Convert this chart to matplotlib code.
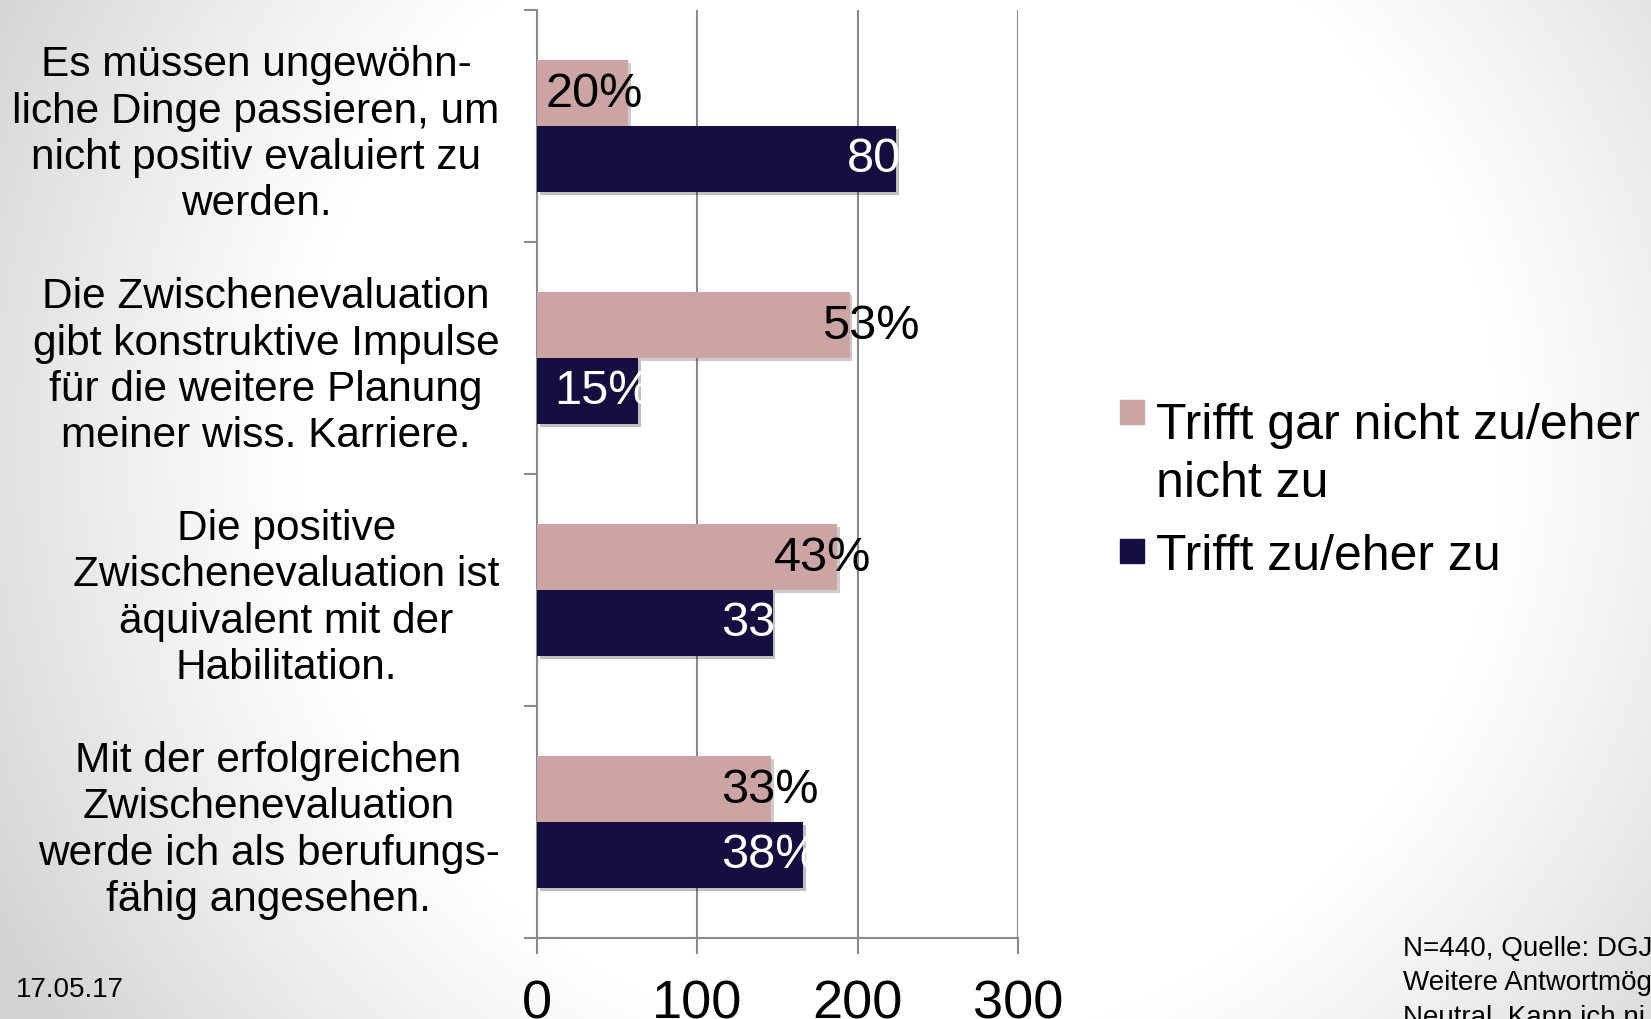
import numpy as np
import matplotlib
matplotlib.use("Agg")
import matplotlib.pyplot as plt
from matplotlib.patches import Rectangle
import matplotlib.patheffects as pe

plt.rcParams['font.family'] = ['Liberation Sans', 'DejaVu Sans']

# ---- data ----
categories = [
    "Es müssen ungewöhn-\nliche Dinge passieren, um\nnicht positiv evaluiert zu\nwerden.",
    "Die Zwischenevaluation\ngibt konstruktive Impulse\nfür die weitere Planung\nmeiner wiss. Karriere.",
    "Die positive\nZwischenevaluation ist\näquivalent mit der\nHabilitation.",
    "Mit der erfolgreichen\nZwischenevaluation\nwerde ich als berufungs-\nfähig angesehen.",
]
series_names = ["Trifft gar nicht zu/eher\nnicht zu", "Trifft zu/eher zu"]
values_neg = [57, 195, 187, 146]
values_pos = [224, 63, 147, 166]
labels_neg = ["20%", "53%", "43%", "33%"]
labels_pos = ["80%", "15%", "33%", "38%"]
xticks = [0, 100, 200, 300]
date_text = "17.05.17"
footnote_lines = ["N=440, Quelle: DGJ", "Weitere Antwortmög", "Neutral, Kann ich ni"]

# ---- style ----
col_neg = "#cda4a4"
col_pos = "#150f41"
grid_col = "#8a8a8a"
lab_off_neg = [-52, -17, -39, -31]
lab_off_pos = [-31, -52, -32, -51]

W, H = 1651, 1020
fig = plt.figure(figsize=(W / 100, H / 100), dpi=100)

# background gradient (white centre, grey towards the edges)
bg = fig.add_axes([0, 0, 1, 1])
yy, xx = np.mgrid[0:H, 0:W]
d = np.sqrt((xx - 900.0) ** 2 + (yy - 450.0) ** 2)
t = np.clip((d - 600.0) / 420.0, 0, 1)
g = 1 - 0.17 * t ** 1.1
bg.imshow(np.dstack([g, g, g]), extent=[0, W, H, 0], aspect='auto', interpolation='bilinear')
bg.set_xlim(0, W); bg.set_ylim(H, 0)
bg.axis('off')

ax = fig.add_axes([537 / W, 81 / H, (1018 - 537) / W, (939 - 11) / H])
ax.set_facecolor('white')

y = np.arange(len(categories))
bh = 0.284
shadow = [pe.SimplePatchShadow(offset=(2, -2), alpha=0.25), pe.Normal()]
b1 = ax.barh(y - bh / 2, values_neg, height=bh, color=col_neg, zorder=3)
b2 = ax.barh(y + bh / 2, values_pos, height=bh, color=col_pos, zorder=3)
for b in list(b1) + list(b2):
    b.set_path_effects(shadow)

for i in range(len(categories)):
    ax.text(values_neg[i] + lab_off_neg[i], y[i] - bh / 2, labels_neg[i], ha='left', va='center',
            fontsize=35, color='black', zorder=5)
    ax.text(values_pos[i] + lab_off_pos[i], y[i] + bh / 2, labels_pos[i], ha='left', va='center',
            fontsize=35, color='white', zorder=5)

ax.set_xlim(0, 300)
ax.set_ylim(3.5, -0.5)
ax.set_xticks(xticks)
ax.set_xticklabels([str(t) for t in xticks], fontsize=39)
ax.tick_params(axis='x', length=11.5, width=1.5, color=grid_col, pad=18)
ax.grid(axis='x', color=grid_col, linewidth=1.5, zorder=0)
ax.set_axisbelow(True)

ax.set_yticks([-0.5, 0.5, 1.5, 2.5, 3.5])
ax.set_yticklabels([])
ax.tick_params(axis='y', which='major', length=9.5, width=1.5, color=grid_col)
ax.set_yticks(y, minor=True)
ax.set_yticklabels(categories, minor=True, fontsize=30.5)
ax.tick_params(axis='y', which='minor', length=0, pad=27)
for tl in ax.get_yticklabels(minor=True):
    tl.set_multialignment('center')

for s in ['top', 'right']:
    ax.spines[s].set_visible(False)
for s in ['left', 'bottom']:
    ax.spines[s].set_color(grid_col)
    ax.spines[s].set_linewidth(1.5)

# legend (manual): square aligned with the first text line
leg_cols = [col_neg, col_pos]
leg_sq = [413, 552]         # centre of square, px from top
leg_base = [435, 570]       # baseline of first text line, px from top
leg_line = 58               # line spacing in px
for c, sq, bl, name in zip(leg_cols, leg_sq, leg_base, series_names):
    fig.patches.append(Rectangle((1120 / W, 1 - (sq + 12) / H), 24 / W, 24 / H,
                                 transform=fig.transFigure, color=c))
    for k, line in enumerate(name.split("\n")):
        fig.text(1156 / W, 1 - (bl + 4 * (len(name.split("\n")) > 1) + leg_line * k) / H, line,
                 fontsize=36, ha='left', va='baseline')

fig.text(16 / W, 1 - 997 / H, date_text, fontsize=20, ha='left', va='baseline')
for k, line in enumerate(footnote_lines):
    fig.text(1403 / W, 1 - (956 + 34 * k) / H, line, fontsize=20, ha='left', va='baseline')

fig.savefig("out.png", dpi=100)
